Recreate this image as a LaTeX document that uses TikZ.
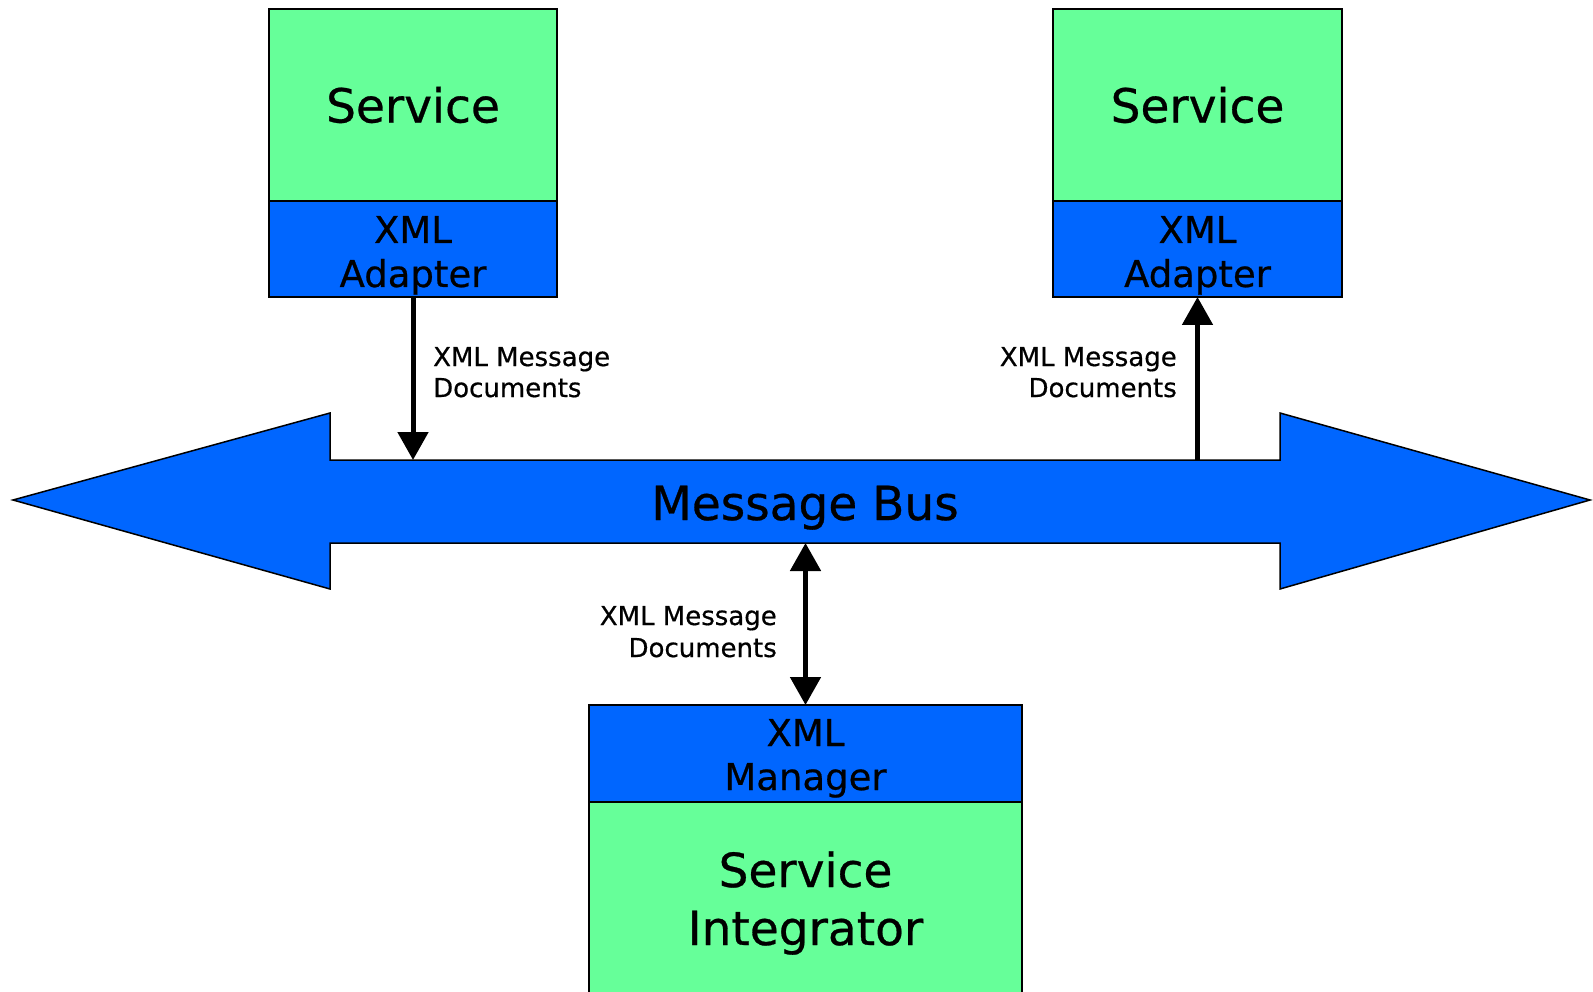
\documentclass[tikz,border=0pt]{standalone}
\usepackage{fontspec}
\setmainfont{DejaVu Sans}[UprightFeatures={FakeBold=0.6}]
\usetikzlibrary{arrows.meta}
\definecolor{svcgreen}{HTML}{66FF99}
\definecolor{xmlblue}{HTML}{0066FF}
\tikzset{
  box/.style={draw=black, line width=1.5pt, rectangle, inner sep=0pt, outer sep=0pt},
  svcbox/.style={box, fill=svcgreen},
  xmlbox/.style={box, fill=xmlblue},
  bigtxt/.style={inner sep=0pt, font=\fontsize{47}{56}\selectfont},
  midtxt/.style={inner sep=0pt, font=\fontsize{37}{44}\selectfont},
  smalltxt/.style={inner sep=0pt, font=\fontsize{26}{31}\selectfont},
  flow/.style={line width=5pt, -{Triangle[length=28pt,width=30pt]}},
  biflow/.style={line width=5pt, {Triangle[length=28pt,width=30pt]}-{Triangle[length=28pt,width=30pt]}},
}
\begin{document}
\begin{tikzpicture}[x=1pt,y=-1pt]
\useasboundingbox (0,0) rectangle (1593,992);
\clip (0,0) rectangle (1593,992);
% message bus
\draw[line width=1.5pt, fill=xmlblue, line join=miter]
  (13,500) -- (330,413) -- (330,460) -- (1280,460) -- (1280,413) -- (1590,500)
  -- (1280,589) -- (1280,543) -- (330,543) -- (330,589) -- cycle;
\node[bigtxt, anchor=base] (bustxt) at (805,520) {Message Bus};
\coordinate (busL) at (413,460);
\coordinate (busR) at (1197.5,460);
\coordinate (busB) at (805.5,543);
% left service
\node[svcbox, minimum width=288pt, minimum height=192pt] (svcL) at (413,105) {};
\node[xmlbox, minimum width=288pt, minimum height=96pt] (adpL) at (413,249) {};
\node[bigtxt] (svcLt) at (413,105) {Service};
\node[midtxt, anchor=base] (adpLa) at (413,243) {XML};
\node[midtxt, anchor=base] (adpLb) at (413,287) {Adapter};
% right service
\node[svcbox, minimum width=289pt, minimum height=192pt] (svcR) at (1197.5,105) {};
\node[xmlbox, minimum width=289pt, minimum height=96pt] (adpR) at (1197.5,249) {};
\node[bigtxt] (svcRt) at (1197.5,105) {Service};
\node[midtxt, anchor=base] (adpRa) at (1197.5,243) {XML};
\node[midtxt, anchor=base] (adpRb) at (1197.5,287) {Adapter};
% bottom integrator
\node[xmlbox, minimum width=433pt, minimum height=97pt] (mgr) at (805.5,753.5) {};
\node[svcbox, minimum width=433pt, minimum height=220pt] (integ) at (805.5,912) {};
\node[midtxt, anchor=base] (mgra) at (805.5,746) {XML};
\node[midtxt, anchor=base] (mgrb) at (805.5,790) {Manager};
\node[bigtxt, anchor=base] (intga) at (805.5,887) {Service};
\node[bigtxt, anchor=base] (intgb) at (805.5,945) {Integrator};
% connectors
\draw[flow] (adpL.south) -- (busL);
\draw[flow] (busR) -- (adpR.south);
\draw[biflow] (busB) -- (mgr.north);
% labels
\node[smalltxt, anchor=base west] (lblLa) at (433,366) {XML Message};
\node[smalltxt, anchor=base west] (lblLb) at (433,397) {Documents};
\node[smalltxt, anchor=base east] (lblRa) at (1177,366) {XML Message};
\node[smalltxt, anchor=base east] (lblRb) at (1177,397) {Documents};
\node[smalltxt, anchor=base east] (lblBa) at (777,625) {XML Message};
\node[smalltxt, anchor=base east] (lblBb) at (777,657) {Documents};
\end{tikzpicture}
\end{document}
